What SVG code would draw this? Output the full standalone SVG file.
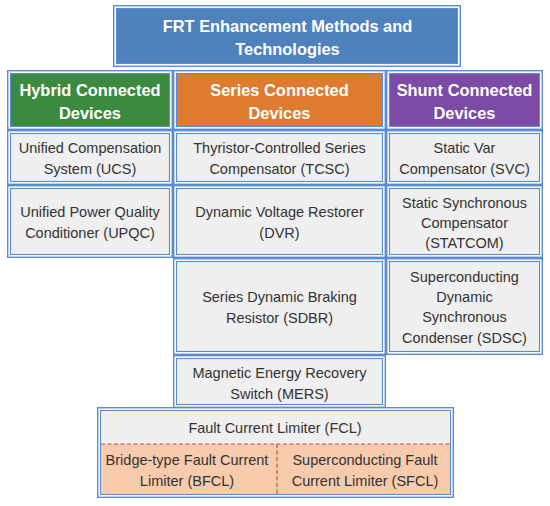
<svg xmlns="http://www.w3.org/2000/svg" width="550" height="506" viewBox="0 0 550 506">
<style>
.o{fill:#ffffff;stroke:#5b8bd2;stroke-width:1.4}
.i{stroke:#5b8bd2;stroke-width:1.1}
.g{fill:#efefef}
.t{font-family:"Liberation Sans",Arial,sans-serif;font-size:14.5px;fill:#333333;text-anchor:middle}
.h{font-family:"Liberation Sans",Arial,sans-serif;font-size:16.4px;font-weight:bold;fill:#ffffff;text-anchor:middle}
.d{stroke:#c0504d;stroke-width:1.2;stroke-dasharray:4 2.5;fill:none}
</style>
<rect width="550" height="506" fill="#ffffff"/>
<g id="title">
<rect class="o" x="113.7" y="5.7" width="346.6" height="60.6"/>
<rect class="i" x="116.5" y="8.5" width="341" height="55" fill="#4f81bd"/>
<text class="h" x="287.5" y="31.5">FRT Enhancement Methods and</text>
<text class="h" x="287.5" y="54.5">Technologies</text>
</g>
<g id="hybrid">
<rect class="o" x="7.7" y="70.7" width="164.6" height="58.6"/>
<rect class="i" x="10.5" y="73.5" width="159" height="53" fill="#3c8a3f"/>
<text class="h" x="90" y="96">Hybrid Connected</text>
<text class="h" x="90" y="119">Devices</text>
</g>
<g id="series">
<rect class="o" x="173.7" y="70.7" width="211.6" height="58.6"/>
<rect class="i" x="176.5" y="73.5" width="206" height="53" fill="#de7b2e"/>
<text class="h" x="279.5" y="96">Series Connected</text>
<text class="h" x="279.5" y="119">Devices</text>
</g>
<g id="shunt">
<rect class="o" x="386.7" y="70.7" width="155.6" height="58.6"/>
<rect class="i" x="389.5" y="73.5" width="150" height="53" fill="#7b4ba6"/>
<text class="h" x="464.5" y="96">Shunt Connected</text>
<text class="h" x="464.5" y="119">Devices</text>
</g>
<g id="ucs">
<rect class="o" x="7.7" y="130.7" width="164.6" height="53.6"/>
<rect class="i g" x="10.5" y="133.5" width="159" height="48"/>
<text class="t" x="90" y="152.5">Unified Compensation</text>
<text class="t" x="90" y="173.5">System (UCS)</text>
</g>
<g id="tcsc">
<rect class="o" x="173.7" y="130.7" width="211.6" height="53.6"/>
<rect class="i g" x="176.5" y="133.5" width="206" height="48"/>
<text class="t" x="279.5" y="152.5">Thyristor-Controlled Series</text>
<text class="t" x="279.5" y="173.5">Compensator (TCSC)</text>
</g>
<g id="svc">
<rect class="o" x="386.7" y="130.7" width="155.6" height="53.6"/>
<rect class="i g" x="389.5" y="133.5" width="150" height="48"/>
<text class="t" x="464.5" y="152.5">Static Var</text>
<text class="t" x="464.5" y="173.5">Compensator (SVC)</text>
</g>
<g id="upqc">
<rect class="o" x="7.7" y="185.7" width="164.6" height="71.6"/>
<rect class="i g" x="10.5" y="188.5" width="159" height="66"/>
<text class="t" x="90" y="217">Unified Power Quality</text>
<text class="t" x="90" y="238">Conditioner (UPQC)</text>
</g>
<g id="dvr">
<rect class="o" x="173.7" y="185.7" width="211.6" height="71.6"/>
<rect class="i g" x="176.5" y="188.5" width="206" height="66"/>
<text class="t" x="279.5" y="217">Dynamic Voltage Restorer</text>
<text class="t" x="279.5" y="238">(DVR)</text>
</g>
<g id="statcom">
<rect class="o" x="386.7" y="185.7" width="155.6" height="71.6"/>
<rect class="i g" x="389.5" y="188.5" width="150" height="66"/>
<text class="t" x="464.5" y="208">Static Synchronous</text>
<text class="t" x="464.5" y="228">Compensator</text>
<text class="t" x="464.5" y="248">(STATCOM)</text>
</g>
<g id="sdbr">
<rect class="o" x="173.7" y="258.7" width="211.6" height="95.6"/>
<rect class="i g" x="176.5" y="261.5" width="206" height="90"/>
<text class="t" x="279.5" y="302">Series Dynamic Braking</text>
<text class="t" x="279.5" y="323">Resistor (SDBR)</text>
</g>
<g id="sdsc">
<rect class="o" x="386.7" y="258.7" width="155.6" height="95.6"/>
<rect class="i g" x="389.5" y="261.5" width="150" height="90"/>
<text class="t" x="464.5" y="282">Superconducting</text>
<text class="t" x="464.5" y="302">Dynamic</text>
<text class="t" x="464.5" y="322">Synchronous</text>
<text class="t" x="464.5" y="343">Condenser (SDSC)</text>
</g>
<g id="mers">
<rect class="o" x="173.7" y="355.7" width="211.6" height="51.6"/>
<rect class="i g" x="176.5" y="358.5" width="206" height="46"/>
<text class="t" x="279.5" y="378">Magnetic Energy Recovery</text>
<text class="t" x="279.5" y="398.5">Switch (MERS)</text>
</g>
<g id="fcl">
<rect class="o" x="97.7" y="407.7" width="355.6" height="89.6"/>
<rect class="i" x="100.5" y="410.5" width="350" height="84" fill="#f8cbad"/>
<rect x="101" y="411" width="349" height="33" fill="#efefef"/>
<text class="t" x="275" y="433">Fault Current Limiter (FCL)</text>
<text class="t" x="187" y="465">Bridge-type Fault Current</text>
<text class="t" x="187" y="486">Limiter (BFCL)</text>
<text class="t" x="365" y="465">Superconducting Fault</text>
<text class="t" x="365" y="486">Current Limiter (SFCL)</text>
</g>
<g id="connectors">
<line class="d" x1="101" y1="444" x2="450" y2="444"/>
<line class="d" x1="277" y1="444" x2="277" y2="494"/>
</g>
</svg>
